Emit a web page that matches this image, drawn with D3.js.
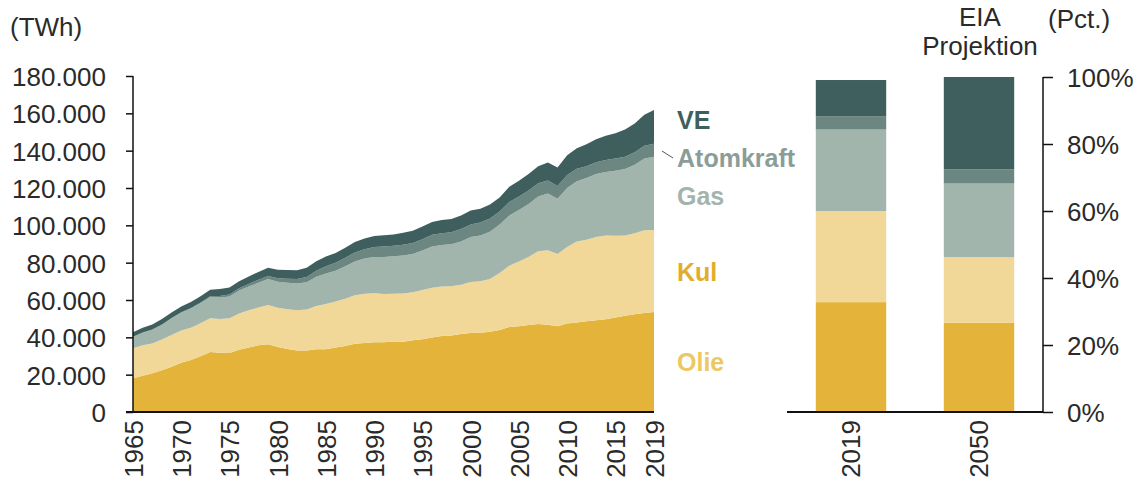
<!DOCTYPE html>
<html>
<head>
<meta charset="utf-8">
<script src="https://cdn.jsdelivr.net/npm/d3@7"></script>
<style>
  body { margin: 0; background: #fff; }
  svg text { font-family: "Liberation Sans", Arial, sans-serif; fill: #2a2a2a; }
</style>
</head>
<body>
<svg id="chart" width="1137" height="481"></svg>
<script>
// world primary energy consumption by source (TWh), 1965-2019
var years = d3.range(1965, 2020);
var olie = [18100,19450,20750,22400,24300,26400,27900,29900,32200,31700,31600,33400,34500,35700,36300,34800,33800,33000,32900,33600,33600,34600,35300,36500,37000,37400,37400,37800,37700,38400,39000,39900,40700,41000,41800,42300,42500,43000,43900,45500,46000,46600,47100,46700,45900,47400,48000,48600,49200,49700,50600,51500,52300,53000,53600];
var kul = [16100,16300,16000,16400,17000,17200,17300,17600,18000,18100,18600,19400,20000,20300,21000,21000,21200,21500,22000,23200,24300,24600,25400,26000,26300,26200,25800,25600,25800,25800,26300,26600,26500,26300,26400,27300,27500,28300,30500,32800,34600,36500,39000,40000,38700,41000,43300,43700,44600,44800,43800,43100,43500,44300,43900];
var gas = [6000,6700,7300,8000,8900,9600,10200,10700,11300,11600,11700,12300,12700,13200,13900,14000,14200,14300,14600,15600,16300,16500,17400,18100,18900,19500,19900,20000,20300,20500,21200,22100,22300,22600,23200,24100,24600,25300,26000,27000,27600,28300,29400,30300,29600,31600,32300,33100,33700,34100,34900,35600,36700,38500,39300];
var atomkraft = [70,100,110,140,170,220,310,420,550,700,1000,1150,1400,1650,1700,1900,2250,2450,2800,3300,3900,4200,4500,4900,5050,5300,5550,5600,5800,5900,6100,6350,6300,6400,6650,6800,6950,7050,6950,7250,7250,7300,7100,7000,6900,7000,6700,6300,6300,6400,6500,6600,6650,6800,6920];
var ve = [2500,2650,2750,2850,3000,3150,3250,3400,3450,3750,3800,3850,3950,4200,4400,4500,4600,4750,4950,5100,5200,5300,5400,5550,5650,5900,6100,6100,6400,6500,6800,6900,7050,7150,7200,7500,7400,7500,7600,8100,8400,8800,9100,9700,9900,10500,11000,11700,12300,13000,13500,14500,15400,16700,18000];

// shares (pct.) 2019 and EIA projection 2050
var barYears = ["2019", "2050"];
var andelOlie = [32.8, 26.6];
var andelKul = [27.2, 19.6];
var andelGas = [24.3, 22.0];
var andelAtomkraft = [3.9, 4.2];
var andelVE = [10.9, 27.6];

var keys = ["Olie", "Kul", "Gas", "Atomkraft", "VE"];
var colors = {"Olie": "#e4b43a", "Kul": "#f1d898", "Gas": "#a2b5ac", "Atomkraft": "#6c8682", "VE": "#3f5f5e"};
var labelColors = {"Olie": "#ecc862", "Kul": "#e2ad2c", "Gas": "#a4b4ad", "Atomkraft": "#8b9d98", "VE": "#3f5f5e"};

var svg = d3.select("#chart");

// ---------- left: stacked area ----------
var rows = years.map(function(y, i) {
  return {year: y, Olie: olie[i], Kul: kul[i], Gas: gas[i], Atomkraft: atomkraft[i], VE: ve[i]};
});
var x = d3.scaleLinear().domain([1965, 2019]).range([133, 654]);
var y = d3.scaleLinear().domain([0, 180000]).range([412, 76]);

var layers = d3.stack().keys(keys)(rows);
var area = d3.area()
    .x(function(d) { return x(d.data.year); })
    .y0(function(d) { return y(d[0]); })
    .y1(function(d) { return y(d[1]); });

svg.append("g").selectAll("path")
    .data(layers)
  .enter().append("path")
    .attr("d", area)
    .style("fill", function(d) { return colors[d.key]; });

var fmt = function(v) { return v === 0 ? "0" : d3.format(",")(v).replace(/,/g, "."); };
var yAxis = svg.append("g")
    .attr("transform", "translate(133,0)")
    .call(d3.axisLeft(y).tickValues(d3.range(0, 180001, 20000)).tickSize(7).tickPadding(20).tickFormat(fmt));
yAxis.selectAll("text").attr("font-size", 26).attr("dy", "0.36em");
yAxis.selectAll("line, path").attr("stroke", "#111").attr("stroke-width", 1.5);
yAxis.select(".domain").attr("d", "M0,76V412");

var xTicks = d3.range(1965, 2016, 5).concat([2019]);
var xAxis = svg.append("g")
    .attr("transform", "translate(0,412)")
    .call(d3.axisBottom(x).tickValues(xTicks).tickSize(0).tickPadding(0).tickFormat(d3.format("d")));
xAxis.select(".domain").attr("d", "M126,0H654").attr("stroke", "#111").attr("stroke-width", 2);
xAxis.selectAll("text")
    .attr("font-size", 26)
    .attr("transform", "rotate(-90)")
    .attr("text-anchor", "end")
    .attr("x", -8).attr("y", 0).attr("dy", "0.36em");

svg.append("text").attr("x", 10).attr("y", 36).attr("font-size", 26).text("(TWh)");

// series labels
var labelPos = {"VE": 120, "Atomkraft": 158, "Gas": 196, "Kul": 272, "Olie": 362};
keys.forEach(function(k) {
  svg.append("text")
      .attr("x", 677).attr("y", labelPos[k]).attr("dy", "0.36em")
      .attr("font-size", 25).attr("font-weight", "bold")
      .style("fill", labelColors[k])
      .text(k);
});
svg.append("line")
    .attr("x1", 662).attr("y1", 151).attr("x2", 673).attr("y2", 158)
    .attr("stroke", "#555").attr("stroke-width", 1);

// ---------- right: share bars ----------
var barRows = barYears.map(function(b, i) {
  return {year: b, Olie: andelOlie[i], Kul: andelKul[i], Gas: andelGas[i], Atomkraft: andelAtomkraft[i], VE: andelVE[i]};
});
var xb = d3.scaleBand().domain(barYears).range([787, 1043]).paddingInner(0.45).paddingOuter(0.225);
var yb = d3.scaleLinear().domain([0, 100]).range([412, 77]);

svg.append("g").selectAll("g")
    .data(d3.stack().keys(keys)(barRows))
  .enter().append("g")
    .style("fill", function(d) { return colors[d.key]; })
  .selectAll("rect")
    .data(function(d) { return d; })
  .enter().append("rect")
    .attr("x", function(d) { return xb(d.data.year); })
    .attr("width", xb.bandwidth())
    .attr("y", function(d) { return yb(d[1]); })
    .attr("height", function(d) { return yb(d[0]) - yb(d[1]); });

var yAxisR = svg.append("g")
    .attr("transform", "translate(1043,0)")
    .call(d3.axisRight(yb).tickValues(d3.range(0, 101, 20)).tickSize(10).tickPadding(14).tickFormat(function(v) { return v + "%"; }));
yAxisR.selectAll("text").attr("font-size", 26).attr("dy", "0.36em");
yAxisR.selectAll("line, path").attr("stroke", "#111").attr("stroke-width", 1.5);
yAxisR.select(".domain").attr("d", "M0,77V412");

var xAxisB = svg.append("g")
    .attr("transform", "translate(0,412)")
    .call(d3.axisBottom(xb).tickSize(0).tickPadding(0));
xAxisB.select(".domain").attr("d", "M787,0H1043").attr("stroke", "#111").attr("stroke-width", 2);
xAxisB.selectAll("text")
    .attr("font-size", 26)
    .attr("transform", "rotate(-90)")
    .attr("text-anchor", "end")
    .attr("x", -8).attr("y", 0).attr("dy", "0.36em");

svg.append("text").attr("x", 980).attr("y", 26).attr("font-size", 26).attr("text-anchor", "middle").text("EIA");
svg.append("text").attr("x", 980).attr("y", 55).attr("font-size", 26).attr("text-anchor", "middle").text("Projektion");
svg.append("text").attr("x", 1048).attr("y", 28).attr("font-size", 26).text("(Pct.)");
</script>
</body>
</html>
